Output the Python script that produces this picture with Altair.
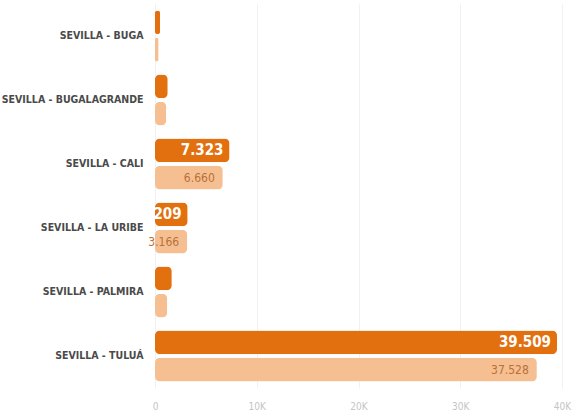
import altair as alt
import pandas as pd

categories = ["SEVILLA - BUGA", "SEVILLA - BUGALAGRANDE", "SEVILLA - CALI",
              "SEVILLA - LA URIBE", "SEVILLA - PALMIRA", "SEVILLA - TULUÁ"]
series_names = ["Actual", "Anterior"]
values_actual = [500, 1250, 7323, 3209, 1650, 39509]
values_prev = [350, 1100, 6660, 3166, 1200, 37528]
x_ticks = [0, 10000, 20000, 30000, 40000]

rows = []
for c, a, b in zip(categories, values_actual, values_prev):
    rows.append({"cat": c, "serie": series_names[0], "valor": a})
    rows.append({"cat": c, "serie": series_names[1], "valor": b})
df = pd.DataFrame(rows)
df["label"] = df["valor"].map(lambda v: f"{v:,}".replace(",", "."))

FONT = "DejaVu Sans Condensed, DejaVu Sans, sans-serif"
DARK = "#E2700F"
LIGHT = "#F5BF91"

y_enc = alt.Y("cat:N", sort=categories, title=None,
              scale=alt.Scale(paddingInner=0.2, paddingOuter=0.1),
              axis=alt.Axis(labelFont=FONT, labelFontWeight="bold", labelFontSize=10.5,
                            labelColor="#4a4a4a", labelPadding=12, ticks=False,
                            domain=False, grid=False, labelLimit=200))
yoff = alt.YOffset("serie:N", sort=series_names,
                   scale=alt.Scale(paddingInner=0.12))

bars = alt.Chart(df).mark_bar(cornerRadius=5).encode(
    y=y_enc,
    yOffset=yoff,
    x=alt.X("valor:Q", title=None,
            scale=alt.Scale(domain=[0, 40000], nice=False),
            axis=alt.Axis(values=x_ticks, labelExpr="datum.value == 0 ? '0' : (datum.value/1000) + 'K'",
                          labelColor="#c4c4c4", labelFont=FONT, labelFontSize=10,
                          labelPadding=13, ticks=False, domain=False,
                          gridColor="#f1f1f1", labelFlush=False)),
    color=alt.Color("serie:N", sort=series_names,
                    scale=alt.Scale(domain=series_names, range=[DARK, LIGHT]),
                    legend=None),
)

big = df[df["valor"] >= 3000]

text_dark = alt.Chart(big[big["serie"] == series_names[0]]).mark_text(
    align="right", baseline="middle", dx=-6, font=FONT, fontWeight="bold",
    fontSize=15, color="white").encode(
    y=alt.Y("cat:N", sort=categories), yOffset=yoff,
    x=alt.X("valor:Q"), text="label:N")

text_light = alt.Chart(big[big["serie"] == series_names[1]]).mark_text(
    align="right", baseline="middle", dx=-8, font=FONT,
    fontSize=12, color="#B8713A").encode(
    y=alt.Y("cat:N", sort=categories), yOffset=yoff,
    x=alt.X("valor:Q"), text="label:N")

chart = alt.layer(bars, text_dark, text_light).properties(
    width=407, height=384,
    autosize=alt.AutoSizeParams(type="none"),
    padding={"left": 155, "top": 4, "right": 22, "bottom": 29},
    background="white",
).configure_view(stroke=None)

chart.save("out.html", embed_options={"renderer": "svg", "actions": False})
